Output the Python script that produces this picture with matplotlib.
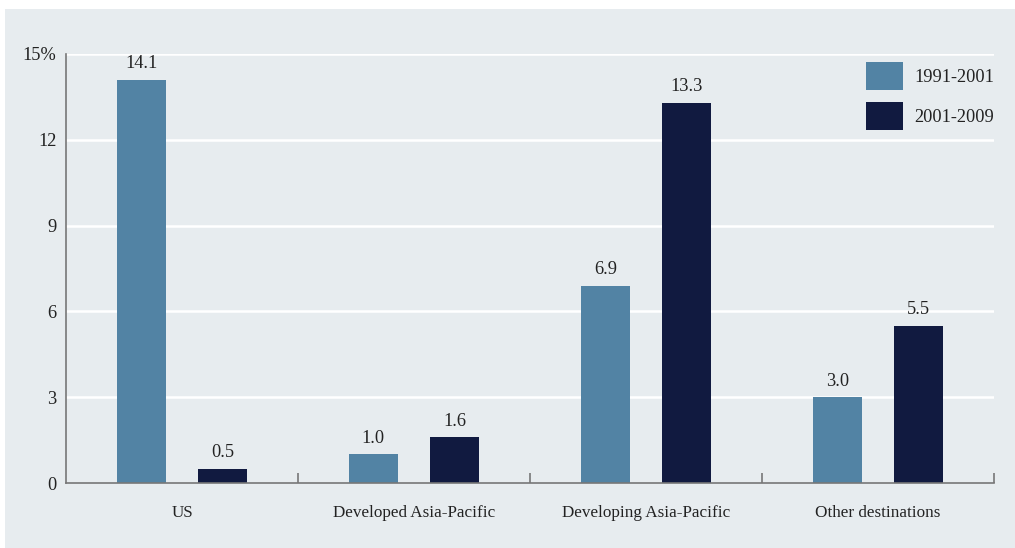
import matplotlib
matplotlib.use("Agg")
import matplotlib.pyplot as plt
from matplotlib.patches import Rectangle
import numpy as np

categories = ["US", "Developed Asia-Pacific", "Developing Asia-Pacific", "Other destinations"]
series_names = ["1991-2001", "2001-2009"]
values_1991_2001 = [14.1, 1.0, 6.9, 3.0]
values_2001_2009 = [0.5, 1.6, 13.3, 5.5]
ytick_vals = [0, 3, 6, 9, 12, 15]
ytick_labels = ["0", "3", "6", "9", "12", "15%"]

c_blue = "#5283a4"
c_navy = "#111a40"
bg = "#e7ecef"
txt = "#222222"

plt.rcParams['font.family'] = ['Liberation Serif', 'DejaVu Serif']
fs = 12.3
fsn = 13.2

fig = plt.figure(figsize=(10.15, 5.48), dpi=100)
fig.patches.append(Rectangle((5 / 1015, 0), 1 - 5 / 1015, 1 - 9 / 548, transform=fig.transFigure,
                             facecolor=bg, edgecolor='none', zorder=-10))
ax = fig.add_axes([66 / 1015, 1 - 483 / 548, (994 - 66) / 1015, (483 - 54) / 548])
ax.patch.set_alpha(0)

x = np.arange(len(categories))
w = 0.211
off = 0.175
b1 = ax.bar(x - off, values_1991_2001, w, color=c_blue, label=series_names[0], zorder=3)
b2 = ax.bar(x + off, values_2001_2009, w, color=c_navy, label=series_names[1], zorder=3)
for bars, vals in ((b1, values_1991_2001), (b2, values_2001_2009)):
    for rect, v in zip(bars, vals):
        ax.annotate(f"{v:.1f}", (rect.get_x() + rect.get_width() / 2, v),
                    xytext=(0, 5.5), textcoords="offset points", ha="center", va="bottom",
                    fontsize=fsn, color=txt)

ax.set_xlim(-0.5, 3.5)
ax.set_ylim(0, 15)
ax.set_yticks(ytick_vals)
ax.set_yticklabels(ytick_labels, fontsize=fsn, color=txt)
ax.tick_params(axis='y', length=0, pad=7)
for yv in ytick_vals[1:]:
    ax.axhline(yv, color='white', lw=1.8, zorder=1)

ax.set_xticks(np.arange(len(categories)) + 0.5)
ax.set_xticklabels([])
ax.tick_params(axis='x', which='major', direction='in', length=7.5, width=1.2, color='#777777')
ax.set_xticks(x, minor=True)
ax.set_xticklabels(categories, minor=True, fontsize=fs, color=txt)
ax.tick_params(axis='x', which='minor', length=0, pad=16)

for s in ('top', 'right'):
    ax.spines[s].set_visible(False)
for s in ('left', 'bottom'):
    ax.spines[s].set_color('#777777')
    ax.spines[s].set_linewidth(1.2)
    ax.spines[s].set_zorder(4)

fpx = fsn * 100 / 72
leg = ax.legend(loc='upper right', bbox_to_anchor=(1.0, 0.982), frameon=False, fontsize=fsn,
                handlelength=37 / fpx, handleheight=((28 / fpx) - 0.245) / 0.65,
                labelspacing=12 / fpx, handletextpad=11 / fpx,
                borderpad=0, borderaxespad=0)
for t in leg.get_texts():
    t.set_color(txt)

fig.savefig("out.png", dpi=100, facecolor='white')
